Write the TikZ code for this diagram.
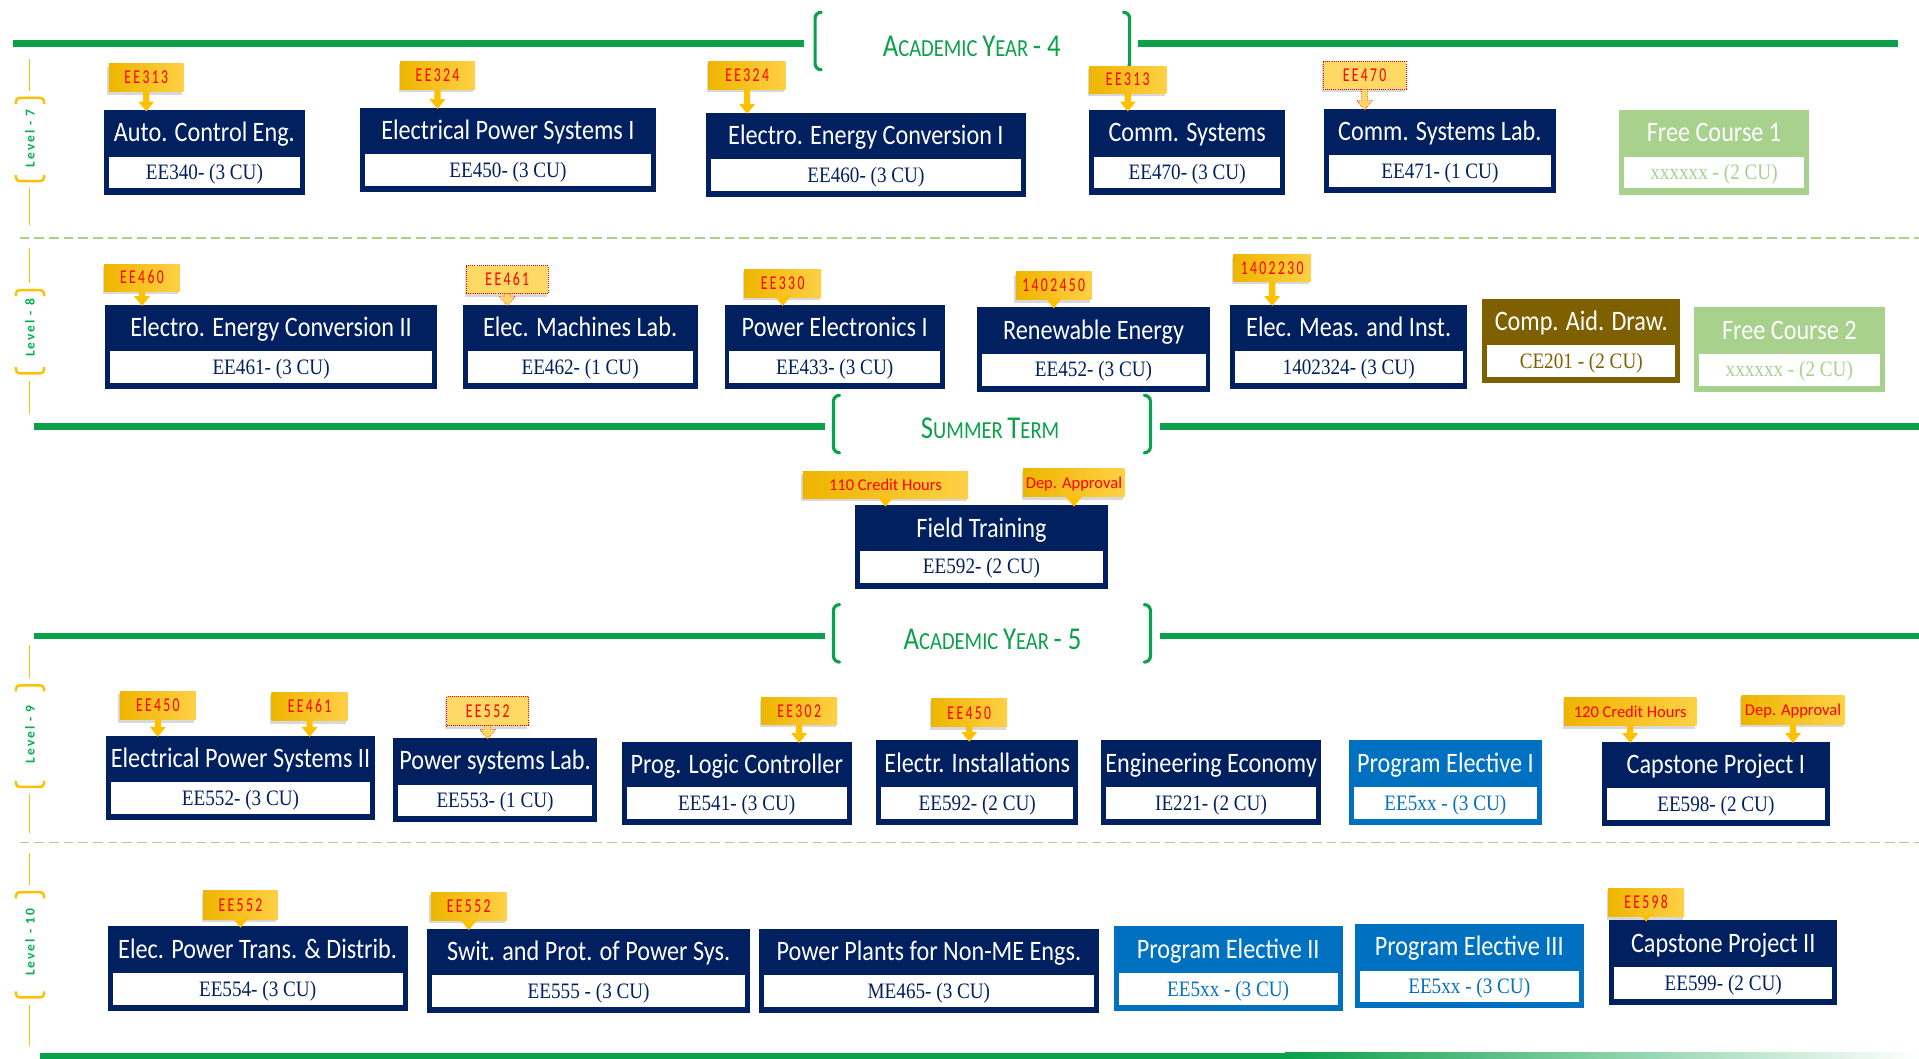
\documentclass[tikz,border=0pt]{standalone}
\usepackage{fontspec}
\setmainfont{Carlito}
\usetikzlibrary{calc,shadows}

\newfontfamily\ttlfont[FakeStretch=0.86]{Carlito}
\newfontfamily\codefont[FakeStretch=0.87]{Liberation Serif}
\newfontfamily\tagcodefont[FakeStretch=0.7,LetterSpace=12]{Carlito}
\newfontfamily\tagtxtfont{Carlito}
\newfontfamily\lvlfont[LetterSpace=15]{Carlito}
\newfontfamily\hdrfont[FakeStretch=0.84]{Carlito}

\newcommand{\HdrBig}{\fontsize{26}{26}\selectfont}
\newcommand{\HdrSm}{\fontsize{20}{20}\selectfont}
\newcommand{\phrase}[1]{{\tagtxtfont\fontsize{13.5}{13.5}\selectfont #1}}

\definecolor{navyc}{HTML}{002060}
\definecolor{electc}{HTML}{0070C0}
\definecolor{brownc}{HTML}{7F6000}
\definecolor{freec}{HTML}{A9D18E}
\definecolor{hdrgreen}{HTML}{0BA04A}
\definecolor{lvlorange}{HTML}{FFC000}
\definecolor{lvlgreen}{HTML}{00B050}
\definecolor{sepgreen}{HTML}{A9D18E}
\definecolor{tagL}{HTML}{EEB500}
\definecolor{tagR}{HTML}{FFD045}
\definecolor{tagpale}{HTML}{FFD966}
\definecolor{tagred}{HTML}{FF0000}

% course box: name, style, x1, y1, x2, y2, title, code
\newcommand{\course}[8]{%
  \node[#2, minimum width={(#5-#3)*1pt}, minimum height={(#6-#4)*1pt}, anchor=north west] (#1) at (#3,#4) {};
  \node[#2code, minimum width={(#5-#3-8)*1pt}, minimum height=26pt, anchor=south] (#1-c) at ([yshift=5pt]#1.south) {#8};
  \node[titletxt, anchor=base] (#1-t) at ([yshift=-26pt]#1.north) {#7};
}

% prerequisite callout: name, style, x1, y1, x2, y2, text, course it points to
\newcommand{\prereq}[8]{%
  \node[#2, minimum width={(#5-#3)*1pt}, minimum height={(#6-#4)*1pt}, anchor=north west] (#1) at (#3,#4) {#7};
  \coordinate (#1-s) at (#1.south);
  \coordinate (#1-e) at (#1.south |- #8.north);
  \filldraw[#2arrow] ($(#1-s)+(-2.5,0)$) -- ($(#1-e)+(-2.5,-7)$) -- ($(#1-e)+(-6.5,-7)$)
     -- ($(#1-e)+(0,1)$) -- ($(#1-e)+(6.5,-7)$) -- ($(#1-e)+(2.5,-7)$) -- ($(#1-s)+(2.5,0)$) -- cycle;
}

% level marker on the left margin: name, text, top, bracket top, text centre, bracket bottom, bottom
\newcommand{\levelmark}[7]{%
  \draw[lvlline] (24,#3) -- (24,{#4-6});
  \draw[lvlbr] (13,{#4+5}) -- (13,#4) -- (36,#4) -- (36,{#4+5});
  \node[lvltxt] (#1) at (24.5,#5) {#2};
  \draw[lvlbr] (13,{#6-5}) -- (13,#6) -- (36,#6) -- (36,{#6-5});
  \draw[lvlline] (24,{#6+6}) -- (24,#7);
}

\begin{document}
\begin{tikzpicture}[x=1pt,y=-1pt,
  boxbase/.style={inner sep=0pt, outer sep=0pt, draw=none},
  cnavy/.style={boxbase, fill=navyc},
  celect/.style={boxbase, fill=electc},
  cbrown/.style={boxbase, fill=brownc},
  cfree/.style={boxbase, fill=freec},
  codebox/.style={boxbase, fill=white, font=\codefont\fontsize{18}{18}\selectfont, text height=12pt, text depth=0pt},
  cnavycode/.style={codebox, text=navyc},
  celectcode/.style={codebox, text=electc},
  cbrowncode/.style={codebox, text=brownc},
  cfreecode/.style={codebox, text=freec},
  titletxt/.style={inner sep=0pt, text=white, font=\ttlfont\fontsize{23}{23}\selectfont},
  tagbase/.style={inner sep=0pt, outer sep=0pt, text=tagred, font=\tagcodefont\fontsize{16}{16}\selectfont,
    text height=10pt, text depth=0pt, drop shadow={shadow xshift=-1.2pt, shadow yshift=-2.4pt, opacity=0.3}},
  tagsolid/.style={tagbase, left color=tagL, right color=tagR},
  tagdot/.style={tagbase, fill=tagpale, draw=tagred, densely dotted, line width=0.7pt},
  tagsolidarrow/.style={fill=lvlorange, draw=none},
  tagdotarrow/.style={fill=tagpale, draw=tagred, densely dotted, line width=0.5pt},
  hline/.style={hdrgreen, line width=5pt},
  hbr/.style={hdrgreen, line width=2.6pt, rounded corners=5pt, line cap=round},
  hdrtxt/.style={text=hdrgreen, inner sep=0pt, font=\hdrfont},
  sepline/.style={sepgreen, line width=1.3pt, dash pattern=on 8pt off 4pt},
  lvlline/.style={lvlorange, line width=1.4pt},
  lvlbr/.style={lvlorange, line width=2pt, rounded corners=3pt},
  lvltxt/.style={text=lvlgreen, inner sep=0pt, rotate=90, font=\lvlfont\bfseries\fontsize{11}{11}\selectfont}
]
\useasboundingbox (0,0) rectangle (1568,865);
\fill[white] (0,0) rectangle (1568,865);

% ---- section headers ----
\draw[hline] (11,35.5) -- (657,35.5);
\draw[hline] (930,35.5) -- (1551,35.5);
\draw[hbr] (671,10) -- (666,10) -- (666,57) -- (671,57);
\draw[hbr] (918,10) -- (923,10) -- (923,57) -- (918,57);
\node[hdrtxt, anchor=base] (ay4) at (794,46.5) {\HdrBig A\HdrSm CADEMIC \HdrBig Y\HdrSm EAR \HdrBig - 4};

\draw[hline] (28,348.5) -- (674,348.5);
\draw[hline] (948,348.5) -- (1568,348.5);
\draw[hbr] (686,323) -- (681,323) -- (681,370) -- (686,370);
\draw[hbr] (935,323) -- (940,323) -- (940,370) -- (935,370);
\node[hdrtxt, anchor=base] (summer) at (809,358) {\HdrBig S\HdrSm UMMER \HdrBig T\HdrSm ERM};

\draw[hline] (28,520) -- (674,520);
\draw[hline] (948,520) -- (1568,520);
\draw[hbr] (686,494) -- (681,494) -- (681,541) -- (686,541);
\draw[hbr] (935,494) -- (940,494) -- (940,541) -- (935,541);
\node[hdrtxt, anchor=base] (ay5) at (811,531) {\HdrBig A\HdrSm CADEMIC \HdrBig Y\HdrSm EAR \HdrBig - 5};

\fill[hdrgreen] (33,860) rectangle (1050,866);
\shade[left color=hdrgreen, right color=white] (1050,860) rectangle (1568,866);

% ---- level separators ----
\draw[sepline] (16,194.5) -- (1568,194.5);
\draw[sepline] (16,688.5) -- (1568,688.5);

% ---- level markers ----
\levelmark{lv7}{Level - 7}{48}{80}{113}{148}{184}
\levelmark{lv8}{Level - 8}{203}{237}{268}{305}{338}
\levelmark{lv9}{Level - 9}{527}{560}{600}{643}{681}
\levelmark{lv10}{Level - 10}{697}{729}{770}{815}{855}

% ---- courses ----
\course{r1a}{cnavy}{85}{90}{249}{159}{Auto. Control Eng.}{EE340- (3 CU)}
\course{r1b}{cnavy}{294}{88}{536}{157}{Electrical Power Systems I}{EE450- (3 CU)}
\course{r1c}{cnavy}{577}{92}{838}{161}{Electro. Energy Conversion I}{EE460- (3 CU)}
\course{r1d}{cnavy}{890}{90}{1050}{159}{Comm. Systems}{EE470- (3 CU)}
\course{r1e}{cnavy}{1082}{89}{1271}{158}{Comm. Systems Lab.}{EE471- (1 CU)}
\course{r1f}{cfree}{1323}{90}{1478}{159}{Free Course 1}{xxxxxx - (2 CU)}

\course{r2a}{cnavy}{86}{249}{357}{318}{Electro. Energy Conversion II}{EE461- (3 CU)}
\course{r2b}{cnavy}{378}{249}{570}{318}{Elec. Machines Lab.}{EE462- (1 CU)}
\course{r2c}{cnavy}{592}{249}{772}{318}{Power Electronics I}{EE433- (3 CU)}
\course{r2d}{cnavy}{798}{251}{989}{320}{Renewable Energy}{EE452- (3 CU)}
\course{r2e}{cnavy}{1005}{249}{1199}{318}{Elec. Meas. and Inst.}{1402324- (3 CU)}
\course{r2f}{cbrown}{1211}{244}{1373}{313}{Comp. Aid. Draw.}{CE201 - (2 CU)}
\course{r2g}{cfree}{1384}{251}{1540}{320}{Free Course 2}{xxxxxx - (2 CU)}

\course{ft}{cnavy}{699}{413}{905}{481}{Field Training}{EE592- (2 CU)}

\course{r3a}{cnavy}{87}{601}{306}{670}{Electrical Power Systems II}{EE552- (3 CU)}
\course{r3b}{cnavy}{321}{603}{488}{672}{Power systems Lab.}{EE553- (1 CU)}
\course{r3c}{cnavy}{508}{606}{696}{674}{Prog. Logic Controller}{EE541- (3 CU)}
\course{r3d}{cnavy}{716}{605}{881}{674}{Electr. Installations}{EE592- (2 CU)}
\course{r3e}{cnavy}{900}{605}{1079}{674}{Engineering Economy}{IE221- (2 CU)}
\course{r3f}{celect}{1102}{605}{1260}{674}{Program Elective I}{EE5xx - (3 CU)}
\course{r3g}{cnavy}{1309}{606}{1495}{675}{Capstone Project I}{EE598- (2 CU)}

\course{r4a}{cnavy}{88}{757}{333}{826}{Elec. Power Trans. \& Distrib.}{EE554- (3 CU)}
\course{r4b}{cnavy}{349}{759}{613}{828}{Swit. and Prot. of Power Sys.}{EE555 - (3 CU)}
\course{r4c}{cnavy}{620}{759}{898}{828}{Power Plants for Non-ME Engs.}{ME465- (3 CU)}
\course{r4d}{celect}{910}{757}{1097}{826}{Program Elective II}{EE5xx - (3 CU)}
\course{r4e}{celect}{1107}{755}{1294}{824}{Program Elective III}{EE5xx - (3 CU)}
\course{r4f}{cnavy}{1315}{752}{1501}{821}{Capstone Project II}{EE599- (2 CU)}

% ---- prerequisites ----
\prereq{t1a}{tagsolid}{89}{52}{150}{75}{EE313}{r1a}
\prereq{t1b}{tagsolid}{327}{50}{388}{73}{EE324}{r1b}
\prereq{t1c}{tagsolid}{579}{50}{642}{73}{EE324}{r1c}
\prereq{t1d}{tagsolid}{890}{54}{953}{76}{EE313}{r1d}
\prereq{t1e}{tagdot}{1081}{50}{1149}{73}{EE470}{r1e}

\prereq{t2a}{tagsolid}{85}{216}{147}{238}{EE460}{r2a}
\prereq{t2b}{tagdot}{381}{217}{448}{240}{EE461}{r2b}
\prereq{t2c}{tagsolid}{608}{220}{671}{243}{EE330}{r2c}
\prereq{t2d}{tagsolid}{830}{222}{892}{245}{1402450}{r2d}
\prereq{t2e}{tagsolid}{1008}{208}{1071}{230}{1402230}{r2e}

\prereq{tfa}{tagsolid}{656}{385}{791}{407}{\phrase{110 Credit Hours}}{ft}
\prereq{tfb}{tagsolid}{836}{383}{919}{406}{\phrase{Dep. Approval}}{ft}

\prereq{t3a}{tagsolid}{98}{565}{160}{588}{EE450}{r3a}
\prereq{t3b}{tagsolid}{222}{566}{284}{589}{EE461}{r3a}
\prereq{t3c}{tagdot}{365}{569}{432}{593}{EE552}{r3b}
\prereq{t3d}{tagsolid}{622}{570}{684}{592}{EE302}{r3c}
\prereq{t3e}{tagsolid}{761}{571}{823}{594}{EE450}{r3d}
\prereq{t3f}{tagsolid}{1278}{570}{1386}{593}{\phrase{120 Credit Hours}}{r3g}
\prereq{t3g}{tagsolid}{1423}{568}{1507}{592}{\phrase{Dep. Approval}}{r3g}

\prereq{t4a}{tagsolid}{166}{728}{227}{751}{EE552}{r4a}
\prereq{t4b}{tagsolid}{352}{729}{414}{752}{EE552}{r4b}
\prereq{t4c}{tagsolid}{1314}{726}{1376}{749}{EE598}{r4f}
\end{tikzpicture}
\end{document}
